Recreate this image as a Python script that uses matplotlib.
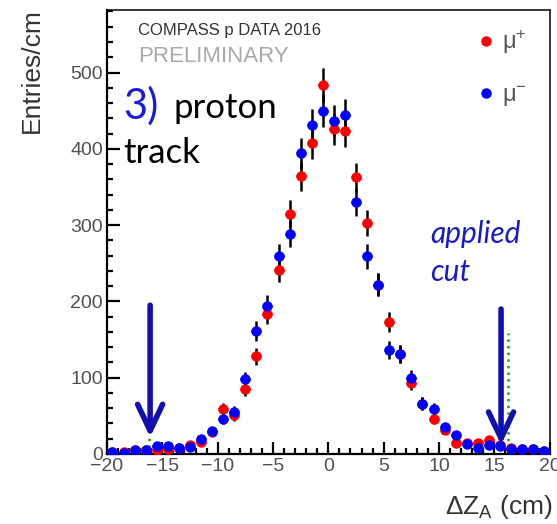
import numpy as np
import matplotlib
matplotlib.use("Agg")
import matplotlib.pyplot as plt
from matplotlib.ticker import MultipleLocator
from matplotlib.lines import Line2D

plt.rcParams['font.family'] = ['Liberation Sans', 'DejaVu Sans']
plt.rcParams['mathtext.fontset'] = 'custom'
plt.rcParams['mathtext.rm'] = 'Liberation Sans'
plt.rcParams['mathtext.it'] = 'Liberation Sans:italic'

# bin centres (cm)
dz = [-19.5, -18.5, -17.5, -16.5, -15.5, -14.5, -13.5, -12.5, -11.5, -10.5,
      -9.5, -8.5, -7.5, -6.5, -5.5, -4.5, -3.5, -2.5, -1.5, -0.5,
      0.5, 1.5, 2.5, 3.5, 4.5, 5.5, 6.5, 7.5, 8.5, 9.5,
      10.5, 11.5, 12.5, 13.5, 14.5, 15.5, 16.5, 17.5, 18.5, 19.5]
mu_plus = [3, 3, 5, 5, 5, 7, 8, 12, 16, 29,
           59, 51, 85, 128, 184, 241, 315, 364, 407, 484,
           426, 423, 363, 303, 222, 173, 131, 93, 66, 46,
           32, 15, 14, 14, 18, 12, 8, 7, 7, 4]
mu_minus = [3, 1, 5, 5, 11, 10, 8, 9, 20, 30,
            46, 55, 98, 161, 194, 259, 288, 394, 431, 450,
            436, 444, 330, 259, 222, 136, 131, 100, 66, 59,
            35, 25, 13, 8, 12, 11, 7, 7, 7, 4]
err_plus = list(np.sqrt(mu_plus))
err_minus = list(np.sqrt(mu_minus))
labels = ['μ$^{+}$', 'μ$^{-}$']
colors = ['#ff0000', '#0000ff']

cut_pos = [-16.1, 15.6]
cut_tip = [22, 12]
cut_top = [195, 190]
green_x = [-16.2, 16.2]
green_h = [21, 158]

fig = plt.figure(figsize=(5.57, 5.24), dpi=100)
ax = fig.add_axes([0.192, 0.1336, 0.795, 0.8474])

for vals, errs, col in [(mu_plus, err_plus, colors[0]),
                        (mu_minus, err_minus, colors[1])]:
    ax.errorbar(dz, vals, yerr=errs, fmt='none', ecolor='black', elinewidth=1.8, zorder=2)
    ax.errorbar(dz, vals, xerr=0.45, fmt='o', color=col, ms=6.5, mec=col,
                ecolor=col, elinewidth=2.2, capsize=0, zorder=3)

ax.vlines(green_x, 0, green_h, colors='#22a022', linestyles=':', linewidth=1.8, zorder=1)

for x, tip, top in zip(cut_pos, cut_tip, cut_top):
    ax.annotate('', xy=(x, tip), xytext=(x, top),
                arrowprops=dict(arrowstyle='->,head_length=1.9,head_width=0.9',
                                color='#1010b0', lw=4, shrinkA=0, shrinkB=0),
                zorder=5)

ax.set_xlim(-20, 20)
ax.set_ylim(0, 582)
ax.xaxis.set_major_locator(MultipleLocator(5))
ax.xaxis.set_minor_locator(MultipleLocator(1))
ax.yaxis.set_major_locator(MultipleLocator(100))
ax.yaxis.set_minor_locator(MultipleLocator(20))
ax.tick_params(which='both', direction='in', top=False, right=False,
               labelsize=14, labelcolor='#505050', width=1.6, pad=3)
ax.tick_params(which='major', length=9)
ax.tick_params(which='minor', length=4.5)
for s in ax.spines.values():
    s.set_linewidth(1.1)
ax.spines['left'].set_linewidth(1.6)
ax.spines['bottom'].set_linewidth(1.6)

fig.text(0.057, 1 - 8 / 524, 'Entries/cm', rotation=90, ha='center', va='top',
         fontsize=19, color='#333333')
fig.text(553 / 557, 1 - 507 / 524, r'$\Delta$Z$_{\mathrm{A}}$ (cm)', ha='right', va='center',
         fontsize=19, color='#333333')

fig.text(138 / 557, 1 - 30 / 524, 'COMPASS p DATA 2016', ha='left', va='center',
         fontsize=12, color='#333333')
fig.text(138 / 557, 1 - 57 / 524, 'PRELIMINARY', ha='left', va='center',
         fontsize=16, color='#a8a8a8')

fig.text(123 / 557, 1 - 106 / 524, '3)', ha='left', va='center', fontsize=30,
         color='#1a1adc', family='Lato')
fig.text(173 / 557, 1 - 108 / 524, 'proton', ha='left', va='center', fontsize=25,
         color='black', family='Lato')
fig.text(123 / 557, 1 - 153 / 524, 'track', ha='left', va='center', fontsize=25,
         color='black', family='Lato')
fig.text(430 / 557, 1 - 234 / 524, 'applied', ha='left', va='center', fontsize=21.5,
         color='#1a1ac8', family='Lato', style='italic')
fig.text(430 / 557, 1 - 272 / 524, 'cut', ha='left', va='center', fontsize=21.5,
         color='#1a1ac8', family='Lato', style='italic')

handles = [Line2D([], [], ls='none', marker='o', ms=6.5, color=c, mec=c) for c in colors]
leg = ax.legend(handles, labels, loc='upper right', bbox_to_anchor=(0.997, 1.007),
                frameon=False, fontsize=17, handlelength=0.8, handletextpad=0.28,
                labelspacing=1.2, labelcolor='#555555')

fig.savefig('out.png', dpi=100)
